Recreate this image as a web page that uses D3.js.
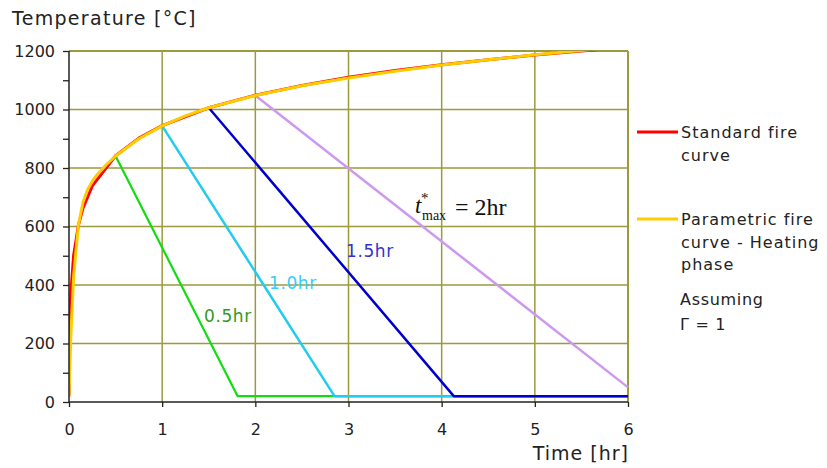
<!DOCTYPE html>
<html><head><meta charset="utf-8">
<script src="https://cdn.jsdelivr.net/npm/d3@7"></script>
<style>body{margin:0;background:#fff}svg{display:block}text{font-family:"DejaVu Sans",Verdana,sans-serif}</style>
</head><body>
<svg id="c" width="827" height="468"></svg>
<script>
// ---- data ----
const xTicks = [0, 1, 2, 3, 4, 5, 6];
const yTicks = [0, 200, 400, 600, 800, 1000, 1200];
const yMinorTicks = [100, 300, 500, 700, 900, 1100];

const stdTime = [0, 0.01, 0.02, 0.05, 0.1, 0.15, 0.25, 0.5, 0.75, 1, 1.5, 2, 2.5, 3, 3.5, 4, 4.5, 5, 5.5, 6];
const stdTemp = [20, 283, 374, 502, 603, 663, 739, 842, 902, 945, 1006, 1049, 1082, 1110, 1133, 1153, 1170, 1186, 1200, 1214];

const paraTime = [0, 0.02, 0.05, 0.1, 0.15, 0.2, 0.25, 0.3, 0.4, 0.5, 0.75, 1, 1.25, 1.5, 2, 2.5, 3, 3.5, 4, 4.5, 5, 5.5, 6];
const paraTemp = [20, 228, 430, 603, 683, 726, 755, 776, 811, 841, 900, 944, 978, 1006, 1048, 1081, 1108, 1131, 1152, 1170, 1187, 1202, 1216];

const cool05Time = [0.5, 1.81, 6];
const cool05Temp = [841, 20, 20];
const cool10Time = [1.0, 2.85, 6];
const cool10Temp = [944, 20, 20];
const cool15Time = [1.5, 4.13, 6];
const cool15Temp = [1006, 20, 20];
const cool20Time = [2.0, 6];
const cool20Temp = [1048, 50];

const legendLabels = [["Standard fire", "curve"], ["Parametric fire", "curve - Heating", "phase"]];

// ---- drawing ----
const svg = d3.select("#c");
const x = d3.scaleLinear().domain([0, 6]).range([69, 628]);
const y = d3.scaleLinear().domain([0, 1200]).range([402, 51]);
const grid = "#9c9a3a";

// grid
svg.append("g").selectAll("line").data(yTicks.slice(1)).join("line")
  .attr("x1", x(0)).attr("x2", x(6)).attr("y1", d => y(d)).attr("y2", d => y(d))
  .attr("stroke", grid).attr("stroke-width", d => d === 1200 ? 2 : 1.5);
svg.append("g").selectAll("line").data(xTicks.slice(1)).join("line")
  .attr("x1", d => x(d)).attr("x2", d => x(d)).attr("y1", y(0)).attr("y2", y(1200))
  .attr("stroke", grid).attr("stroke-width", d => d === 6 ? 2 : 1.5);

// clip
svg.append("clipPath").attr("id", "clip").append("rect")
  .attr("x", x(0)).attr("y", y(1200)).attr("width", x(6) - x(0) + 2).attr("height", y(0) - y(1200));

const plot = svg.append("g").attr("clip-path", "url(#clip)");
const line = d3.line().x(d => x(d[0])).y(d => y(d[1]));
const zip = (a, b) => a.map((v, i) => [v, b[i]]);

function drawSeries(t, v, color, w) {
  plot.append("path").datum(zip(t, v)).attr("d", line)
    .attr("fill", "none").attr("stroke", color).attr("stroke-width", w)
    .attr("stroke-linejoin", "round");
}
drawSeries(cool20Time, cool20Temp, "#cc99ee", 2.5);
drawSeries(cool05Time, cool05Temp, "#11dd11", 2.2);
drawSeries(cool10Time, cool10Temp, "#22ccee", 2.5);
drawSeries(cool15Time, cool15Temp, "#0000cc", 2.5);
drawSeries(stdTime, stdTemp, "#ff0000", 3);
drawSeries(paraTime, paraTemp, "#ffcc00", 3);

// axes
const yAxis = svg.append("g").attr("transform", `translate(${x(0)},0)`)
  .call(d3.axisLeft(y).tickValues(yTicks).tickSize(6).tickPadding(8).tickFormat(d3.format("d")));
svg.append("g").attr("transform", `translate(${x(0)},0)`)
  .call(d3.axisLeft(y).tickValues(yMinorTicks).tickSize(6).tickFormat(""))
  .select(".domain").remove();
const xAxis = svg.append("g").attr("transform", `translate(0,${y(0)})`)
  .call(d3.axisBottom(x).tickValues(xTicks).tickSize(5).tickPadding(17).tickFormat(d3.format("d")));
svg.selectAll(".domain").attr("stroke", "#222").attr("stroke-width", 1.5);
svg.selectAll(".tick line").attr("stroke", "#222").attr("stroke-width", 1.3);
svg.selectAll(".tick text").attr("font-size", 16).attr("fill", "#222")
  .style("font-family", '"DejaVu Sans",Verdana,sans-serif');
yAxis.select(".domain").attr("d", `M0,${y(1200)}V${y(0)}`);
xAxis.select(".domain").attr("d", `M${x(0)},0H${x(6)}`);

// titles
svg.append("text").attr("x", 12).attr("y", 25).attr("font-size", 19).attr("letter-spacing", 1.3)
  .attr("fill", "#222").text("Temperature [°C]");
svg.append("text").attr("x", 629).attr("y", 460).attr("text-anchor", "end").attr("font-size", 19)
  .attr("letter-spacing", 1).attr("fill", "#222").text("Time [hr]");

// cooling labels
const labAttrs = (sel) => sel.attr("font-size", 17).attr("letter-spacing", 0.6);
labAttrs(svg.append("text").attr("x", 204).attr("y", 322)).attr("fill", "#339922").text("0.5hr");
labAttrs(svg.append("text").attr("x", 269).attr("y", 289)).attr("fill", "#33ccff").text("1.0hr");
labAttrs(svg.append("text").attr("x", 346).attr("y", 257)).attr("fill", "#3333cc").text("1.5hr");

// t*max label
const serif = '"Liberation Serif","DejaVu Serif",serif';
const tg = svg.append("g").style("font-family", serif).attr("fill", "#111");
tg.append("text").attr("x", 415).attr("y", 213).attr("font-size", 23).attr("font-style", "italic")
  .style("font-family", serif).text("t");
tg.append("text").attr("x", 421).attr("y", 203).attr("font-size", 15)
  .style("font-family", serif).text("*");
tg.append("text").attr("x", 422).attr("y", 220).attr("font-size", 14)
  .style("font-family", serif).text("max");
tg.append("text").attr("x", 455).attr("y", 215).attr("font-size", 24)
  .style("font-family", serif).text("= 2hr");

// legend
const lg = svg.append("g");
const legendColors = ["#ff0000", "#ffcc00"];
const legendY = [132, 219];
legendLabels.forEach((lines, i) => {
  lg.append("line").attr("x1", 637).attr("x2", 678).attr("y1", legendY[i]).attr("y2", legendY[i])
    .attr("stroke", legendColors[i]).attr("stroke-width", 3);
  lines.forEach((s, j) => {
    lg.append("text").attr("x", 681).attr("y", legendY[i] + 6 + j * 22.5)
      .attr("font-size", 16).attr("letter-spacing", 1).attr("fill", "#222").text(s);
  });
});
lg.append("text").attr("x", 680).attr("y", 305).attr("font-size", 16).attr("letter-spacing", 0.7).attr("fill", "#222").text("Assuming");
lg.append("text").attr("x", 680).attr("y", 330).attr("font-size", 16).attr("letter-spacing", 0.7).attr("fill", "#222").text("Γ = 1");
</script>
</body></html>
